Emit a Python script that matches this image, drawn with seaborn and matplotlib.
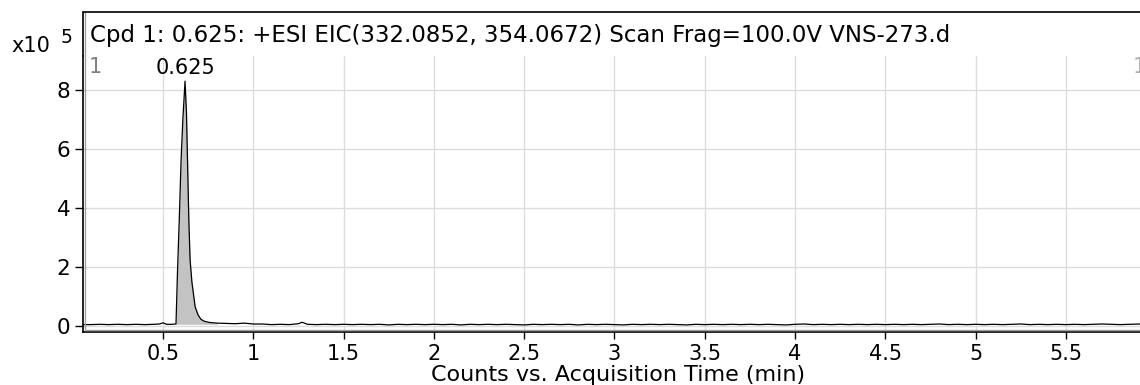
import matplotlib
matplotlib.use("Agg")
import matplotlib.pyplot as plt
import seaborn as sns
import numpy as np
import pandas as pd
from matplotlib.lines import Line2D

# acquisition time (min) and counts (x10^5)
peak_time = [0.06, 0.10, 0.15, 0.20, 0.25, 0.30, 0.35, 0.40, 0.45, 0.48, 0.50, 0.52, 0.55, 0.572,
             0.58, 0.59, 0.60, 0.61, 0.622, 0.63, 0.636, 0.643, 0.65, 0.66, 0.668, 0.678, 0.694,
             0.71, 0.73, 0.76, 0.80, 0.85, 0.90, 0.95, 1.00]
peak_counts = [0.06, 0.06, 0.07, 0.06, 0.07, 0.06, 0.07, 0.06, 0.07, 0.08, 0.12, 0.07, 0.07, 0.08,
               1.8, 3.6, 5.6, 7.0, 8.29, 7.2, 5.6, 3.6, 2.25, 1.5, 1.13, 0.66, 0.39,
               0.24, 0.17, 0.13, 0.11, 0.10, 0.09, 0.11, 0.08]
base_time = [1.05, 1.10, 1.15, 1.20, 1.25, 1.27, 1.30, 1.35, 1.40, 1.45, 1.50, 1.55, 1.60, 1.65,
             1.70, 1.75, 1.80, 1.85, 1.90, 1.95, 2.00, 2.05, 2.10, 2.15, 2.20, 2.25, 2.30, 2.35,
             2.40, 2.45, 2.50, 2.55, 2.60, 2.65, 2.70, 2.75, 2.80, 2.85, 2.90, 2.95, 3.00, 3.05,
             3.10, 3.15, 3.20, 3.25, 3.30, 3.35, 3.40, 3.45, 3.50, 3.55, 3.60, 3.65, 3.70, 3.75,
             3.80, 3.85, 3.90, 3.95, 4.00, 4.05, 4.10, 4.15, 4.20, 4.25, 4.30, 4.35, 4.40, 4.45,
             4.50, 4.55, 4.60, 4.65, 4.70, 4.75, 4.80, 4.85, 4.90, 4.95, 5.00, 5.05, 5.10, 5.15,
             5.20, 5.25, 5.30, 5.35, 5.40, 5.45, 5.50, 5.55, 5.60, 5.65, 5.70, 5.75, 5.80, 5.85, 5.91]
base_counts = [0.08, 0.06, 0.07, 0.06, 0.09, 0.14, 0.07, 0.06, 0.07, 0.06, 0.07, 0.06, 0.07, 0.06,
               0.07, 0.05, 0.07, 0.06, 0.07, 0.06, 0.07, 0.06, 0.07, 0.05, 0.07, 0.06, 0.07, 0.06,
               0.07, 0.06, 0.05, 0.07, 0.06, 0.07, 0.06, 0.07, 0.05, 0.07, 0.06, 0.07, 0.06, 0.05,
               0.07, 0.06, 0.07, 0.06, 0.07, 0.06, 0.05, 0.07, 0.06, 0.07, 0.06, 0.07, 0.06, 0.07,
               0.06, 0.07, 0.06, 0.05, 0.07, 0.08, 0.06, 0.07, 0.06, 0.07, 0.06, 0.07, 0.06, 0.07,
               0.06, 0.07, 0.06, 0.07, 0.06, 0.07, 0.08, 0.06, 0.07, 0.06, 0.07, 0.06, 0.07, 0.06,
               0.07, 0.08, 0.06, 0.07, 0.06, 0.07, 0.06, 0.07, 0.06, 0.07, 0.08, 0.07, 0.06, 0.07, 0.08]

fill_start, fill_end = 0.572, 0.80
x_ticks = [0.5, 1, 1.5, 2, 2.5, 3, 3.5, 4, 4.5, 5, 5.5]
x_ticklabels = ["0.5", "1", "1.5", "2", "2.5", "3", "3.5", "4", "4.5", "5", "5.5"]
y_ticks = [0, 2, 4, 6, 8]
title = "Cpd 1: 0.625: +ESI EIC(332.0852, 354.0672) Scan Frag=100.0V VNS-273.d"
peak_label = "0.625"
peak_label_time, peak_label_value = 0.625, 8.29

sns.set_theme(style="white")
plt.rcParams['font.family'] = ['DejaVu Sans']

df = pd.DataFrame({"time": peak_time + base_time, "counts": peak_counts + base_counts})

W, H = 1140, 385
fig = plt.figure(figsize=(W / 100, H / 100), dpi=100)
left, right, top, bottom = 83, 1140, 56, 332
ax = fig.add_axes([left / W, 1 - bottom / H, (right - left) / W, (bottom - top) / H])

ax.set_xlim(0.057, 5.91)
ax.set_ylim(-0.19, 9.14)

ax.grid(True, color="#dcdcdc", linewidth=1.0)
ax.set_axisbelow(True)

mask = (df["time"] >= fill_start) & (df["time"] <= fill_end)
ax.fill_between(df["time"][mask], 0.07, df["counts"][mask], color="#c3c3c3", linewidth=0, zorder=2)
sns.lineplot(data=df, x="time", y="counts", ax=ax, color="black", linewidth=0.9, zorder=3)

ax.set_xticks(x_ticks)
ax.set_xticklabels(x_ticklabels)
ax.set_yticks(y_ticks)
ax.tick_params(axis="x", direction="out", length=5, width=1, color="black",
               labelsize=15, pad=4, bottom=True, labelcolor="black")
ax.tick_params(axis="y", direction="out", length=6, width=1, color="black",
               labelsize=15.5, pad=3, left=True, labelcolor="black")
ax.set_xlabel("")
ax.set_ylabel("")

for s in ["top", "right"]:
    ax.spines[s].set_visible(False)
for s in ["left", "bottom"]:
    ax.spines[s].set_color("black")
    ax.spines[s].set_linewidth(1.2)

# secondary gray frame lines (double-line look)
fig.add_artist(Line2D([(left + 2) / W, 1], [1 - (bottom - 2) / H] * 2, color="#a0a0a0", lw=1.0))
fig.add_artist(Line2D([(left + 2) / W] * 2, [1 - (bottom - 2) / H, 1 - 12 / H], color="#a0a0a0", lw=1.0))
# header box
fig.add_artist(Line2D([left / W, 1], [1 - 12 / H] * 2, color="black", lw=1.2))
fig.add_artist(Line2D([left / W] * 2, [1 - 12 / H, 1 - top / H], color="black", lw=1.2))

fig.text(90 / W, 1 - 42 / H, title, fontsize=16.5, va="baseline", ha="left", color="black")
fig.text(11 / W, 1 - 52 / H, "x10", fontsize=15, va="baseline", ha="left", color="black")
fig.text(61 / W, 1 - 43 / H, "5", fontsize=13.5, va="baseline", ha="left", color="black")
fig.text(89 / W, 1 - 73 / H, "1", fontsize=15, va="baseline", ha="left", color="#808080")
fig.text(1133 / W, 1 - 73 / H, "1", fontsize=15, va="baseline", ha="left", color="#b0b0b0")
fig.text(618 / W, 1 - 381 / H, "Counts vs. Acquisition Time (min)", fontsize=16,
         va="baseline", ha="center", color="black")

ax.annotate(peak_label, (peak_label_time, peak_label_value), xytext=(0, 2), textcoords="offset points",
            ha="center", va="bottom", fontsize=15, color="black")

fig.savefig("out.png", dpi=100)
